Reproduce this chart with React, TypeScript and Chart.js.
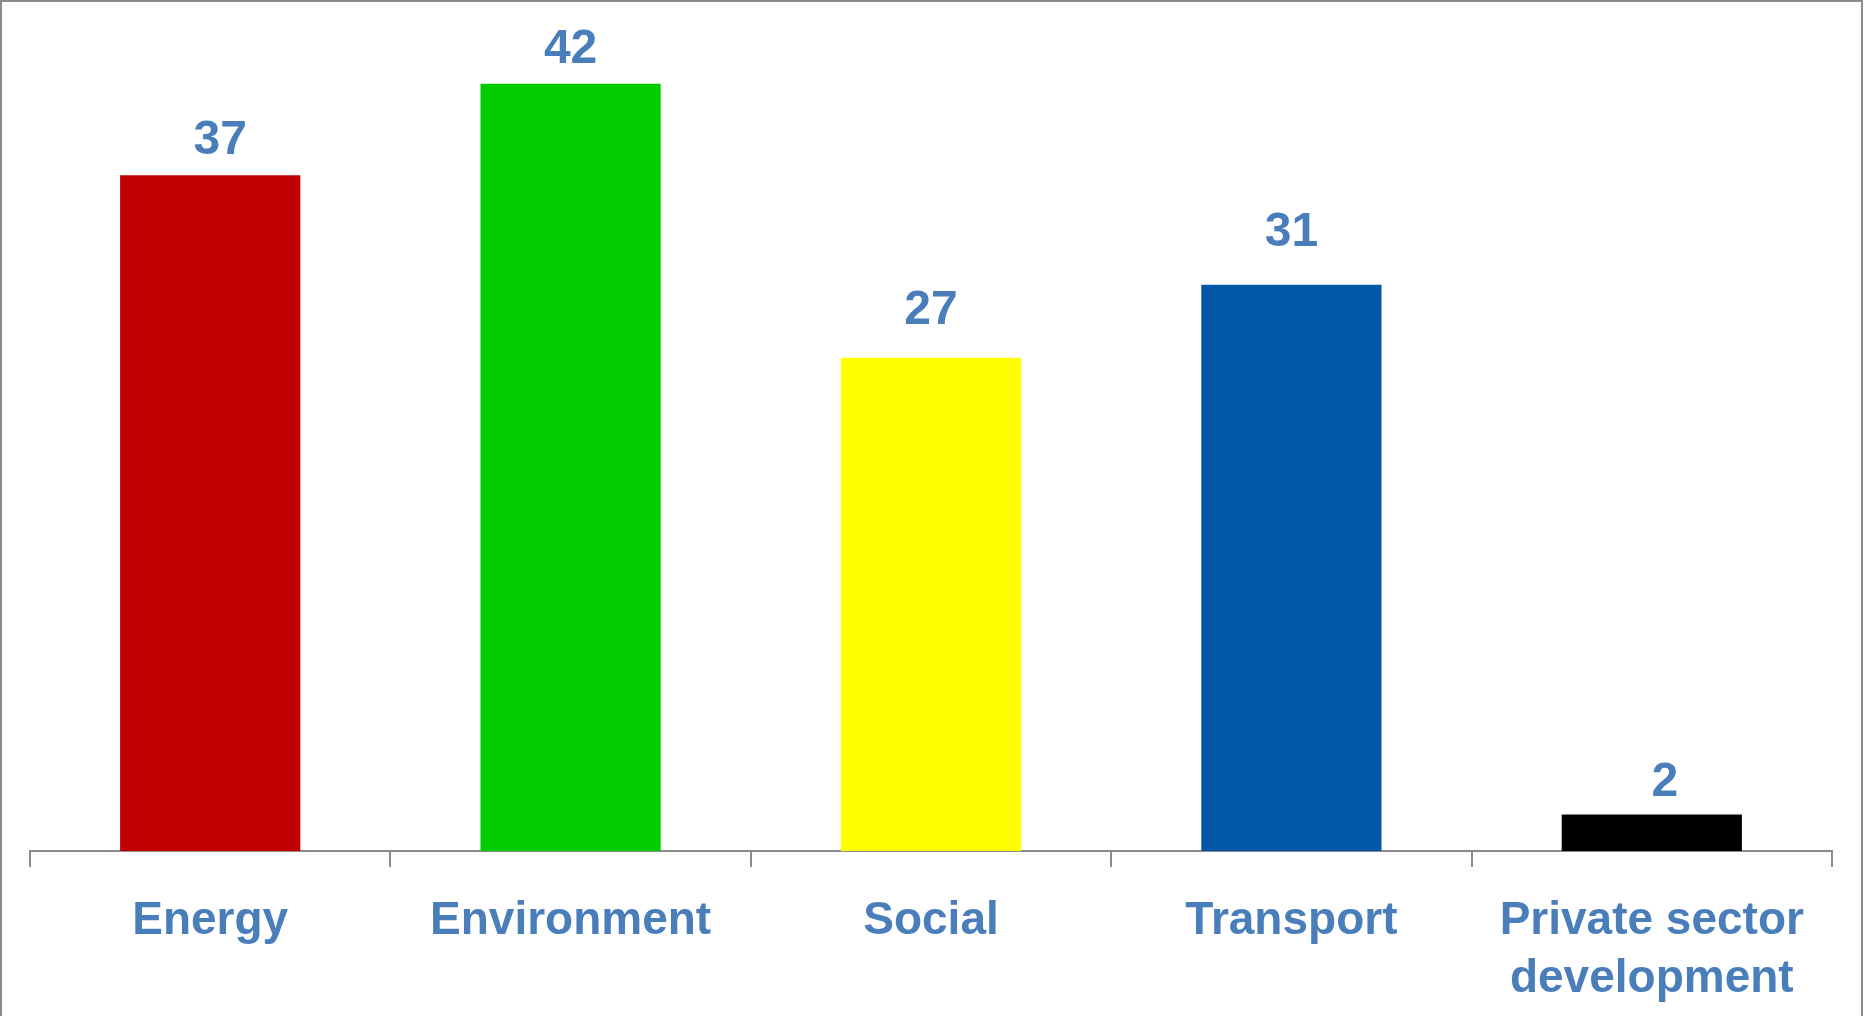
import React, { useEffect, useRef } from "react";
import { Chart, registerables } from "chart.js";

Chart.register(...registerables);

const categories: (string | string[])[] = [
  "Energy",
  "Environment",
  "Social",
  "Transport",
  ["Private sector", "development"],
];
const values: number[] = [37, 42, 27, 31, 2];
const barColors: string[] = ["#C00000", "#00CC00", "#FFFF00", "#0156A6", "#000000"];

// small manual nudges of the value labels (px), as in the original layout
const labelGap: number[] = [21, 21, 34, 39, 18];
const labelShiftX: number[] = [10, 0, 0, 0, 13];

const TEXT_COLOR = "#4a7ebb";
const AXIS_COLOR = "#8c8c8c";
const FONT = "'Liberation Sans', Arial, sans-serif";

const valueLabelPlugin = {
  id: "valueLabels",
  afterDatasetsDraw(chart: any) {
    const ctx = chart.ctx;
    const meta = chart.getDatasetMeta(0);
    ctx.save();
    ctx.font = `bold 48px ${FONT}`;
    ctx.fillStyle = TEXT_COLOR;
    ctx.textAlign = "center";
    ctx.textBaseline = "alphabetic";
    meta.data.forEach((bar: any, i: number) => {
      ctx.fillText(String(values[i]), bar.x + labelShiftX[i], bar.y - labelGap[i]);
    });
    ctx.restore();
  },
};

export default function App() {
  const canvasRef = useRef<HTMLCanvasElement | null>(null);

  useEffect(() => {
    if (!canvasRef.current) return;
    const chart = new Chart(canvasRef.current, {
      type: "bar",
      data: {
        labels: categories,
        datasets: [
          {
            data: values,
            backgroundColor: barColors,
            borderWidth: 0,
            barPercentage: 0.5,
            categoryPercentage: 1,
          },
        ],
      },
      options: {
        responsive: false,
        animation: false,
        layout: { padding: { left: 30, right: 33, top: 29, bottom: 0 } },
        plugins: {
          legend: { display: false },
          tooltip: { enabled: false },
        },
        scales: {
          x: {
            offset: true,
            grid: {
              display: true,
              drawOnChartArea: false,
              drawTicks: true,
              tickLength: 16,
              color: AXIS_COLOR,
              lineWidth: 2,
              offset: true,
            },
            border: { display: true, color: AXIS_COLOR, width: 2 },
            ticks: {
              color: TEXT_COLOR,
              font: { family: FONT, size: 46, weight: "bold", lineHeight: 1.26 },
              padding: 25,
              maxRotation: 0,
              minRotation: 0,
              autoSkip: false,
            },
            afterFit: (scale: any) => {
              scale.height = 165;
            },
          },
          y: {
            display: false,
            min: 0,
            max: 45,
          },
        },
      },
      plugins: [valueLabelPlugin],
    });
    return () => chart.destroy();
  }, []);

  return (
    <div style={{ position: "relative", width: 1865, height: 1016, overflow: "hidden", background: "#fff" }}>
      <style>{`body{margin:0;}`}</style>
      <canvas
        ref={canvasRef}
        width={1865}
        height={1016}
        style={{ position: "absolute", left: 0, top: 0, width: 1865, height: 1016 }}
      />
      <div
        style={{
          position: "absolute",
          left: 0,
          top: 0,
          width: 1863,
          height: 1040,
          boxSizing: "border-box",
          border: `2px solid ${AXIS_COLOR}`,
          pointerEvents: "none",
        }}
      />
    </div>
  );
}
